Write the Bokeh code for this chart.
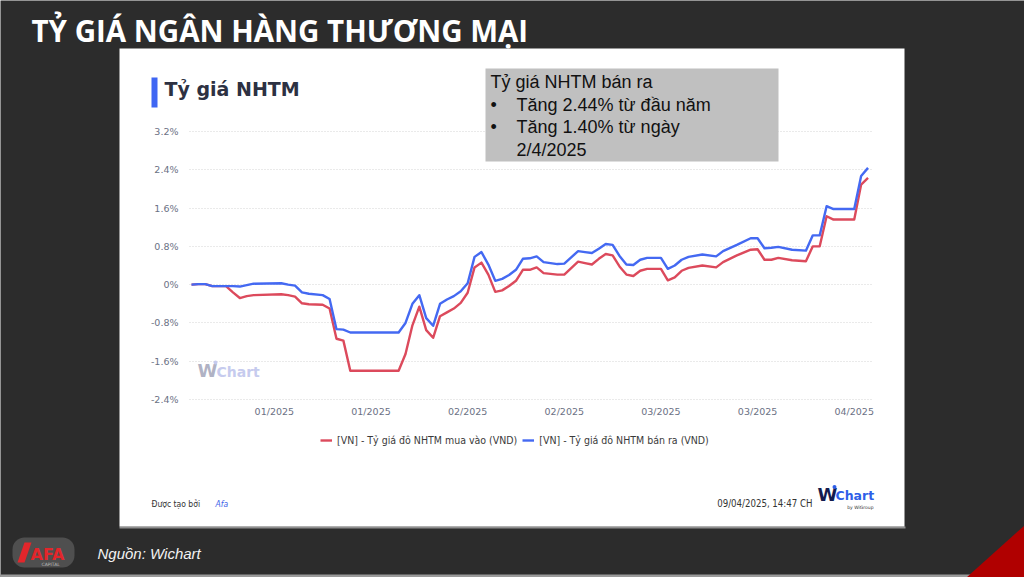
import pandas as pd
from bokeh.plotting import figure
from bokeh.models import (Range1d, FixedTicker, Label, BoxAnnotation,
                          Legend, LegendItem, ColumnDataSource)
from bokeh.embed import file_html
from bokeh.resources import INLINE

# ---------------- data ----------------
dates = ["2024-12-31", "2025-01-01", "2025-01-02", "2025-01-03", "2025-01-05", "2025-01-06",
         "2025-01-07", "2025-01-08", "2025-01-09", "2025-01-13", "2025-01-14", "2025-01-15",
         "2025-01-16", "2025-01-17", "2025-01-19", "2025-01-20", "2025-01-21", "2025-01-22",
         "2025-01-23", "2025-01-30", "2025-01-31", "2025-02-01", "2025-02-02", "2025-02-03",
         "2025-02-04", "2025-02-05", "2025-02-06", "2025-02-07", "2025-02-08", "2025-02-09",
         "2025-02-10", "2025-02-11", "2025-02-12", "2025-02-13", "2025-02-14", "2025-02-15",
         "2025-02-16", "2025-02-17", "2025-02-18", "2025-02-19", "2025-02-20", "2025-02-22",
         "2025-02-23", "2025-02-25", "2025-02-26", "2025-02-27", "2025-02-28", "2025-03-01",
         "2025-03-02", "2025-03-03", "2025-03-04", "2025-03-05", "2025-03-06", "2025-03-07",
         "2025-03-09", "2025-03-10", "2025-03-11", "2025-03-12", "2025-03-13", "2025-03-15",
         "2025-03-17", "2025-03-18", "2025-03-20", "2025-03-22", "2025-03-23", "2025-03-24",
         "2025-03-25", "2025-03-26", "2025-03-28", "2025-03-30", "2025-03-31", "2025-04-01",
         "2025-04-02", "2025-04-03", "2025-04-06", "2025-04-07", "2025-04-08"]

# [VN] - Tỷ giá đô NHTM bán ra (%, change since start of year)
ban_ra = [0.00, 0.01, 0.01, -0.03, -0.03, -0.03,
          -0.04, -0.01, 0.02, 0.03, 0.00, -0.02,
          -0.16, -0.19, -0.22, -0.30, -0.93, -0.94,
          -1.00, -1.00, -0.80, -0.40, -0.22, -0.70,
          -0.86, -0.40, -0.31, -0.24, -0.14, 0.03,
          0.58, 0.68, 0.42, 0.08, 0.12, 0.20,
          0.31, 0.54, 0.55, 0.59, 0.47, 0.43,
          0.44, 0.70, 0.68, 0.66, 0.75, 0.85,
          0.83, 0.60, 0.42, 0.41, 0.52, 0.56,
          0.56, 0.33, 0.40, 0.52, 0.58, 0.63,
          0.59, 0.70, 0.83, 0.97, 0.97, 0.76,
          0.77, 0.79, 0.73, 0.71, 1.03, 1.03,
          1.64, 1.58, 1.58, 2.27, 2.44]

# [VN] - Tỷ giá đô NHTM mua vào
mua_vao = [0.00, 0.01, 0.01, -0.03, -0.03, -0.16,
           -0.28, -0.24, -0.22, -0.20, -0.22, -0.25,
           -0.39, -0.41, -0.42, -0.50, -1.13, -1.17,
           -1.80, -1.80, -1.45, -0.85, -0.46, -0.95,
           -1.11, -0.66, -0.58, -0.50, -0.38, -0.17,
           0.36, 0.46, 0.21, -0.15, -0.12, -0.03,
           0.08, 0.31, 0.31, 0.36, 0.24, 0.21,
           0.21, 0.48, 0.45, 0.42, 0.54, 0.64,
           0.61, 0.38, 0.21, 0.18, 0.29, 0.33,
           0.33, 0.09, 0.15, 0.29, 0.35, 0.40,
           0.36, 0.47, 0.61, 0.73, 0.74, 0.52,
           0.52, 0.56, 0.51, 0.49, 0.80, 0.80,
           1.43, 1.36, 1.36, 2.09, 2.23]

series_names = ["[VN] - Tỷ giá đô NHTM mua vào (VND)", "[VN] - Tỷ giá đô NHTM bán ra (VND)"]
y_ticks = [-2.4, -1.6, -0.8, 0.0, 0.8, 1.6, 2.4, 3.2]
y_tick_labels = ["-2.4%", "-1.6%", "-0.8%", "0%", "0.8%", "1.6%", "2.4%", "3.2%"]
x_tick_dates = ["2025-01-12", "2025-01-26", "2025-02-09", "2025-02-23",
                "2025-03-09", "2025-03-23", "2025-04-06"]
x_tick_labels = ["01/2025", "01/2025", "02/2025", "02/2025", "03/2025", "03/2025", "04/2025"]

note_lines = ["Tỷ giá NHTM bán ra", "Tăng 2.44% từ đầu năm", "Tăng 1.40% từ ngày", "2/4/2025"]

# ---------------- layout geometry ----------------
W, H = 1024, 577
CH_L, CH_R, CH_T, CH_B = 189, 873, 131, 399          # chart area on the page (px)
t0 = pd.Timestamp("2024-12-31") - pd.Timedelta(hours=7)
t1 = pd.Timestamp("2024-12-31") + pd.Timedelta(hours=2371)
ms0, ms1 = t0.value / 1e6, t1.value / 1e6
Y_MIN, Y_MAX = y_ticks[0], y_ticks[-1]
mspp = (ms1 - ms0) / (CH_R - CH_L)
vpp = (Y_MAX - Y_MIN) / (CH_B - CH_T)

src = ColumnDataSource(dict(date=pd.to_datetime(dates), ban_ra=ban_ra, mua_vao=mua_vao))

p = figure(width=W, height=H, x_axis_type="datetime",
           x_range=Range1d(ms0 - CH_L * mspp, ms1 + (W - CH_R) * mspp),
           y_range=Range1d(Y_MIN - (H - CH_B) * vpp, Y_MAX + CH_T * vpp),
           output_backend="svg", toolbar_location=None, title=None, min_border=0)
p.border_fill_color = "#2c2c2c"
p.background_fill_color = "#2c2c2c"
p.outline_line_color = None

# page-pixel ranges for the decorations
p.extra_x_ranges = {"px": Range1d(0, W)}
p.extra_y_ranges = {"px": Range1d(H, 0)}
PX = dict(x_range_name="px", y_range_name="px")


def box(l, r, t, b, color, alpha=1.0, level="annotation", radius=0):
    p.add_layout(BoxAnnotation(left=l, right=r, top=t, bottom=b, fill_color=color,
                               fill_alpha=alpha, line_alpha=0, level=level,
                               border_radius=radius, **PX))


def poly(xs, ys, color):
    p.patch(xs, ys, fill_color=color, line_color=None, level="overlay", **PX)


def dot(x, y, size, color):
    p.scatter([x], [y], size=size, fill_color=color, line_color=None, level="overlay", **PX)


def label(x, y, text, size, color, font="DejaVu Sans", style="normal", align="left"):
    p.add_layout(Label(x=x, y=y, text=text, text_font=font, text_font_size=f"{size}px",
                       text_color=color, text_font_style=style, text_align=align,
                       text_baseline="middle", **PX))


# white panel behind the chart
box(119, 905, 526, 528, "#8f8f8f", level="image")
box(119, 904, 48, 526, "#ffffff", level="image")

# grid + axes
p.xgrid.visible = False
p.ygrid.ticker = FixedTicker(ticks=y_ticks)
p.ygrid.cross_bounds = (ms0, ms1)
p.ygrid.grid_line_color = "#d4d4d4"
p.ygrid.grid_line_dash = "1 2"
p.ygrid.grid_line_width = 1

p.yaxis.ticker = FixedTicker(ticks=y_ticks)
p.yaxis.major_label_overrides = dict(zip(y_ticks, y_tick_labels))
p.yaxis.fixed_location = ms0
x_tick_ms = [int(pd.Timestamp(d).value // 10**6) for d in x_tick_dates]
p.xaxis.ticker = FixedTicker(ticks=x_tick_ms)
p.xaxis.major_label_overrides = dict(zip(x_tick_ms, x_tick_labels))
p.xaxis.fixed_location = Y_MIN

for ax in (p.xaxis[0], p.yaxis[0]):
    ax.axis_line_color = None
    ax.major_tick_line_color = None
    ax.minor_tick_line_color = None
    ax.major_tick_in = 0
    ax.major_tick_out = 0
    ax.major_label_text_font = "DejaVu Sans"
    ax.major_label_text_font_size = "9.5px"
    ax.major_label_text_color = "#6b7184"
p.yaxis.major_label_standoff = 11
p.xaxis.major_label_standoff = 6

# series
r_red = p.line("date", "mua_vao", source=src, line_color="#dc4a5c", line_width=2.4,
               line_join="round")
r_blue = p.line("date", "ban_ra", source=src, line_color="#4469f2", line_width=2.4,
                line_join="round")

legend = Legend(items=[LegendItem(label=series_names[0], renderers=[r_red]),
                       LegendItem(label=series_names[1], renderers=[r_blue])],
                orientation="horizontal", location=(320, H - 446),
                background_fill_alpha=0, border_line_alpha=0, padding=0, margin=0,
                spacing=5, glyph_width=12, glyph_height=12, label_height=12,
                label_standoff=5, label_text_font="DejaVu Sans Condensed",
                label_text_font_size="10.5px", label_text_color="#3a3a3a")
p.add_layout(legend)

# ---------------- decorations ----------------
label(31, 29.5, "TỶ GIÁ NGÂN HÀNG THƯƠNG MẠI", 29.5, "#ffffff", font="Open Sans", style="bold")

box(151, 157, 77, 107, "#3f66f3")
label(164, 88, "Tỷ giá NHTM", 19, "#2d3142", style="bold")

box(485, 778, 68, 161, "#c0c0c0")
label(490, 81.5, note_lines[0], 18, "#111111", font="Liberation Sans")
label(490, 104, "•", 18, "#111111", font="Liberation Sans")
label(516, 104, note_lines[1], 18, "#111111", font="Liberation Sans")
label(490, 126.5, "•", 18, "#111111", font="Liberation Sans")
label(516, 126.5, note_lines[2], 18, "#111111", font="Liberation Sans")
label(516, 149, note_lines[3], 18, "#111111", font="Liberation Sans")

# watermark
label(197, 370, "W", 18, "#b0b2c4", style="bold")
label(216, 371, "Chart", 14, "#c6cbee", style="bold")
dot(215, 362, 4, "#c6cbee")

# footer
label(151, 503, "Được tạo bởi", 8.5, "#333333", font="DejaVu Sans Condensed")
label(215, 503, "Afa", 8.5, "#3d63e8", font="DejaVu Sans Condensed", style="italic")
label(812, 503, "09/04/2025, 14:47 CH", 9.6, "#333333", font="DejaVu Sans Condensed",
      align="right")
label(817, 494, "W", 18, "#141c4f", style="bold")
label(835, 495, "Chart", 12.5, "#2f5fe8", style="bold")
dot(834, 486.5, 4, "#2f5fe8")
label(873, 507, "by WiGroup", 4.5, "#333333", align="right")

# slide footer
box(12, 74, 537, 567, "#7a7a7a", alpha=0.45, radius=12)
poly([24, 31, 24, 17], [542, 542, 562, 562], "#e3262b")
label(30, 554, "AFA", 16, "#e3262b", style="bold")
label(41, 564, "CAPITAL", 4.5, "#bbbbbb")
label(97, 553, "Nguồn: Wichart", 15, "#f2f2f2", font="Liberation Sans", style="italic")
poly([966, 1024, 1024], [577, 525, 577], "#b00000")
box(0, 1024, 574, 577, "#9a9a9a")

open("out.html", "w").write(file_html(p, INLINE))
